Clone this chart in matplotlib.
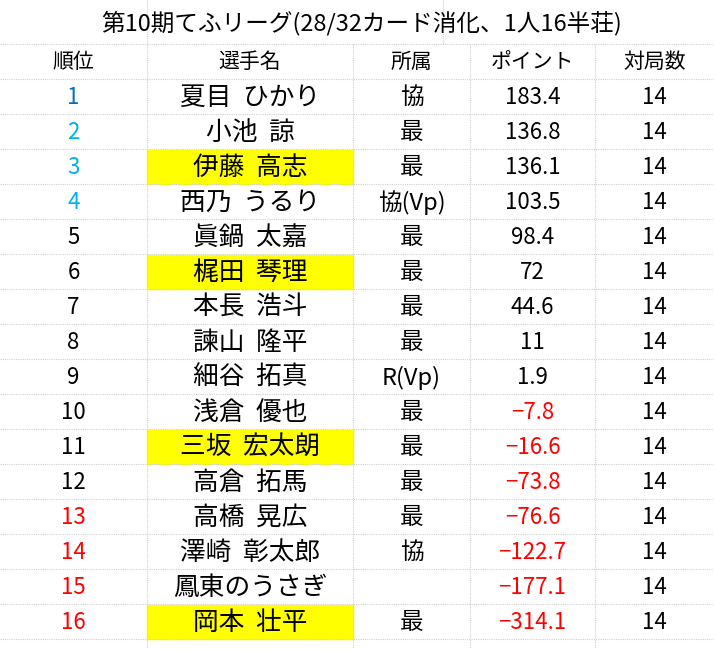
import matplotlib
matplotlib.use("Agg")
import matplotlib.pyplot as plt
from matplotlib.patches import Rectangle

plt.rcParams['font.family'] = ['Noto Sans CJK JP', 'DejaVu Sans']

title = "第10期てふリーグ(28/32カード消化、1人16半荘)"
headers = ["順位", "選手名", "所属", "ポイント", "対局数"]
ranks = list(range(1, 17))
names = ["夏目  ひかり", "小池  諒", "伊藤  高志", "西乃  うるり", "眞鍋  太嘉", "梶田  琴理",
         "本長  浩斗", "諫山  隆平", "細谷  拓真", "浅倉  優也", "三坂  宏太朗", "高倉  拓馬",
         "高橋  晃広", "澤崎  彰太郎", "鳳東のうさぎ", "岡本  壮平"]
affil = ["協", "最", "最", "協(Vp)", "最", "最", "最", "最", "R(Vp)", "最", "最", "最", "最", "協", "", "最"]
points = [183.4, 136.8, 136.1, 103.5, 98.4, 72, 44.6, 11, 1.9, -7.8, -16.6, -73.8, -76.6, -122.7, -177.1, -314.1]
games = [14] * 16
highlight = [3, 6, 11, 16]

W, H = 714, 649
fig = plt.figure(figsize=(W / 100, H / 100), dpi=100)
ax = fig.add_axes([0, 0, 1, 1])
ax.set_xlim(0, W)
ax.set_ylim(H, 0)
ax.axis('off')

cols = [0, 147, 353, 470, 595, 714]
top = 44
rh = 35.0
grid = dict(color='#d0d0d0', lw=0.8, ls=(0, (1, 1)))
for x in [147, 443]:
    ax.plot([x, x], [0, top], **grid)
for x in cols[1:-1]:
    ax.plot([x, x], [top, H], **grid)
for i in range(19):
    y = top + i * rh
    if y <= H:
        ax.plot([0, W], [y, y], **grid)

ax.text(W / 2 + 5, 23, title, ha='center', va='center', fontsize=17)
for j, h in enumerate(headers):
    ax.text((cols[j] + cols[j + 1]) / 2, top + rh / 2, h, ha='center', va='center', fontsize=15)

def rank_color(r):
    if r == 1:
        return '#0070C0'
    if r <= 4:
        return '#00B0F0'
    if r >= 13:
        return '#FF0000'
    return 'black'

for i in range(16):
    y0 = top + (i + 1) * rh
    yc = y0 + rh / 2 + 1
    r = ranks[i]
    if r in highlight:
        ax.add_patch(Rectangle((cols[1], y0 + 1), cols[2] - cols[1], rh - 1, color='#FFFF00', zorder=0))
    ax.text((cols[0] + cols[1]) / 2, yc, str(r), ha='center', va='center', fontsize=16, color=rank_color(r))
    ax.text((cols[1] + cols[2]) / 2, yc, names[i], ha='center', va='center', fontsize=18.5)
    ax.text((cols[2] + cols[3]) / 2, yc, affil[i], ha='center', va='center', fontsize=17)
    p = points[i]
    ps = f"{p:g}".replace('-', '−')
    ax.text((cols[3] + cols[4]) / 2, yc, ps, ha='center', va='center', fontsize=16,
            color='#FF0000' if p < 0 else 'black')
    ax.text((cols[4] + cols[5]) / 2, yc, str(games[i]), ha='center', va='center', fontsize=16)

fig.savefig('out.png', dpi=100)
